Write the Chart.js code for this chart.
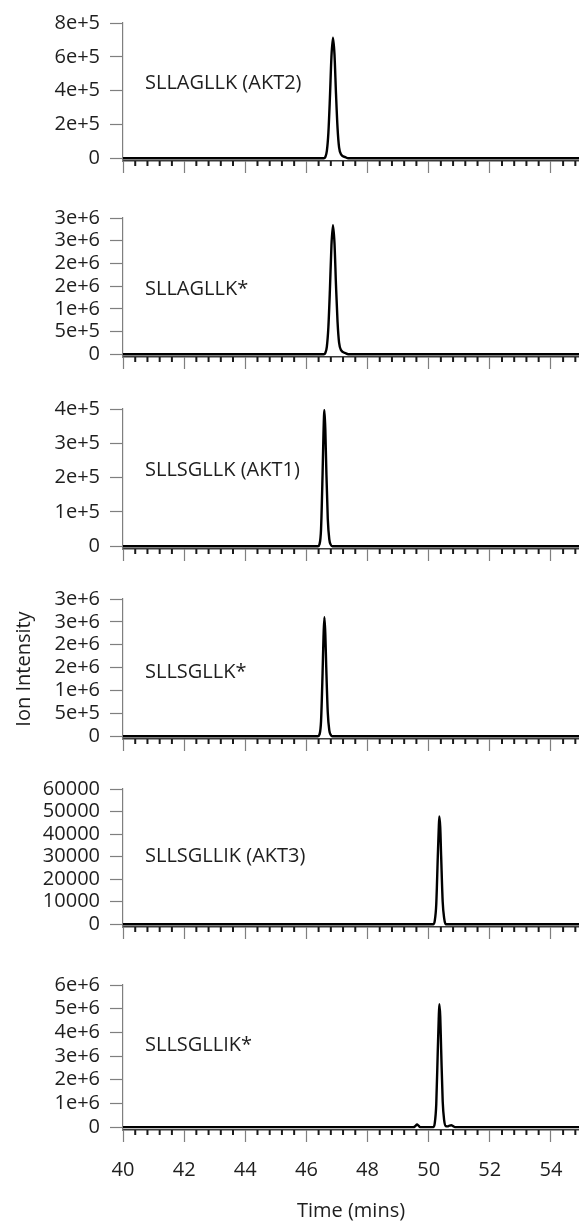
<!DOCTYPE html>
<html><head><meta charset="utf-8">
<script src="https://cdn.jsdelivr.net/npm/chart.js@4.4.0/dist/chart.umd.min.js"></script>
<style>
html,body{margin:0;padding:0;background:#fff;}
body{width:579px;height:1228px;position:relative;overflow:hidden;}
.panel{position:absolute;left:0;width:579px;}
</style></head><body>
<script>
// ---------------- data ----------------
const peptideLabels = ['SLLAGLLK (AKT2)', 'SLLAGLLK*', 'SLLSGLLK (AKT1)', 'SLLSGLLK*', 'SLLSGLLIK (AKT3)', 'SLLSGLLIK*'];

const time1 = [40, 46.57, 46.62, 46.67, 46.72, 46.77, 46.82, 46.87, 46.92, 46.97, 47.02, 47.07, 47.14, 47.27, 47.37, 55];
const int1  = [0, 0, 7000, 43000, 150000, 357000, 600000, 713000, 613000, 378000, 178000, 64000, 21000, 7000, 0, 0];

const time2 = [40, 46.57, 46.62, 46.67, 46.72, 46.77, 46.82, 46.87, 46.92, 46.97, 47.02, 47.07, 47.14, 47.27, 47.37, 55];
const int2  = [0, 0, 28000, 170000, 600000, 1420000, 2390000, 2840000, 2440000, 1500000, 710000, 255000, 85000, 28000, 0, 0];

const time3 = [40, 46.38, 46.43, 46.48, 46.53, 46.56, 46.59, 46.62, 46.65, 46.70, 46.75, 46.80, 46.85, 55];
const int3  = [0, 0, 6000, 50000, 210000, 330000, 397000, 340000, 230000, 80000, 20000, 4000, 0, 0];

const time4 = [40, 46.38, 46.43, 46.48, 46.53, 46.56, 46.59, 46.62, 46.65, 46.70, 46.75, 46.80, 46.85, 55];
const int4  = [0, 0, 39000, 330000, 1380000, 2160000, 2600000, 2230000, 1510000, 520000, 130000, 26000, 0, 0];

const time5 = [40, 50.15, 50.20, 50.25, 50.30, 50.33, 50.35, 50.38, 50.41, 50.46, 50.51, 50.56, 55];
const int5  = [0, 0, 1500, 9000, 30000, 42000, 47800, 43000, 30000, 10000, 2500, 0, 0];

const time6 = [40, 49.50, 49.57, 49.62, 49.67, 49.72, 50.15, 50.20, 50.25, 50.30, 50.33, 50.35, 50.38, 50.41, 50.46, 50.51, 50.56, 50.62, 50.68, 50.74, 50.80, 50.86, 55];
const int6  = [0, 0, 50000, 110000, 60000, 0, 0, 160000, 980000, 3250000, 4560000, 5190000, 4670000, 3260000, 1090000, 270000, 40000, 30000, 60000, 80000, 40000, 0, 0];

const yTicks1 = [0, 200000, 400000, 600000, 800000];
const yTickLabels1 = ['0', '2e+5', '4e+5', '6e+5', '8e+5'];
const yTicks2 = [0, 500000, 1000000, 1500000, 2000000, 2500000, 3000000];
const yTickLabels2 = ['0', '5e+5', '1e+6', '2e+6', '2e+6', '3e+6', '3e+6'];
const yTicks3 = [0, 100000, 200000, 300000, 400000];
const yTickLabels3 = ['0', '1e+5', '2e+5', '3e+5', '4e+5'];
const yTicks4 = [0, 500000, 1000000, 1500000, 2000000, 2500000, 3000000];
const yTickLabels4 = ['0', '5e+5', '1e+6', '2e+6', '2e+6', '3e+6', '3e+6'];
const yTicks5 = [0, 10000, 20000, 30000, 40000, 50000, 60000];
const yTickLabels5 = ['0', '10000', '20000', '30000', '40000', '50000', '60000'];
const yTicks6 = [0, 1000000, 2000000, 3000000, 4000000, 5000000, 6000000];
const yTickLabels6 = ['0', '1e+6', '2e+6', '3e+6', '4e+6', '5e+6', '6e+6'];

const xTickLabels = ['40', '42', '44', '46', '48', '50', '52', '54'];
const xMin = 40;
const xMax = 54.92;
const xMinorStep = 0.4;

const xTitle = 'Time (mins)';
const yTitle = 'Ion Intensity';

// ---------------- layout / style ----------------
const times = [time1, time2, time3, time4, time5, time6];
const ints = [int1, int2, int3, int4, int5, int6];
const yTicks = [yTicks1, yTicks2, yTicks3, yTicks4, yTicks5, yTicks6];
const yTickLabels = [yTickLabels1, yTickLabels2, yTickLabels3, yTickLabels4, yTickLabels5, yTickLabels6];

const panelLayout = [
  { top: 17,  zero: 164,  labelFrac: 0.44 },
  { top: 212, zero: 360,  labelFrac: 0.51 },
  { top: 403, zero: 552,  labelFrac: 0.44 },
  { top: 593, zero: 742,  labelFrac: 0.526 },
  { top: 783, zero: 930,  labelFrac: 0.487 },
  { top: 979, zero: 1127, labelFrac: 0.417 }
];
const PAD_TOP = 16;
const GAP = 3;
const PAGE_H = 1228;
const FONT = "'Open Sans', 'Liberation Sans', sans-serif";
const TEXT = '#1e1e1e';

Chart.defaults.font.family = FONT;
Chart.defaults.color = TEXT;

const panelDecor = {
  id: 'panelDecor',
  afterDraw(chart, args, opts) {
    const { ctx, chartArea } = chart;
    const x = chart.scales.x;
    ctx.save();
    ctx.strokeStyle = '#1a1a1a';
    ctx.lineWidth = 2;
    for (let k = 0; ; k++) {
      const v = xMin + k * xMinorStep;
      if (v > x.max + 1e-9) break;
      const r = v / 2;
      if (Math.abs(r - Math.round(r)) < 1e-6) continue;
      const px = x.getPixelForValue(v);
      ctx.beginPath();
      ctx.moveTo(px, x.top);
      ctx.lineTo(px, x.top + 5);
      ctx.stroke();
    }
    ctx.fillStyle = TEXT;
    ctx.font = '20px ' + FONT;
    ctx.textBaseline = 'middle';
    ctx.textAlign = 'left';
    ctx.fillText(opts.text, chartArea.left + 22, chartArea.top + opts.frac * (chartArea.bottom - chartArea.top));
    ctx.restore();
  }
};

function makePanel(i) {
  const L = panelLayout[i];
  const isBottom = i === 5;
  const axisH = isBottom ? PAGE_H - (L.zero + GAP) : 16;
  const top = L.top - PAD_TOP;
  const h = PAD_TOP + (L.zero + GAP - L.top) + axisH;
  const div = document.createElement('div');
  div.className = 'panel';
  div.style.top = top + 'px';
  div.style.height = h + 'px';
  const canvas = document.createElement('canvas');
  canvas.width = 579; canvas.height = h;
  canvas.style.width = '579px'; canvas.style.height = h + 'px';
  div.appendChild(canvas);
  document.body.appendChild(div);

  const ticks = yTicks[i];
  const yMaxV = ticks[ticks.length - 1];
  const yMinV = -yMaxV * GAP / (L.zero - L.top);
  const pts = times[i].map((t, k) => ({ x: t, y: ints[i][k] }));

  new Chart(canvas, {
    type: 'line',
    data: { datasets: [{ data: pts, borderColor: '#000', borderWidth: 2.4, pointRadius: 0, cubicInterpolationMode: 'monotone', fill: false }] },
    options: {
      responsive: false,
      animation: false,
      events: [],
      layout: { padding: { top: PAD_TOP, left: 0, right: 0, bottom: 0 } },
      plugins: {
        legend: { display: false },
        tooltip: { enabled: false },
        panelDecor: { text: peptideLabels[i], frac: L.labelFrac }
      },
      scales: {
        x: {
          type: 'linear', min: xMin, max: xMax, position: 'bottom',
          afterBuildTicks: s => { s.ticks = xTickLabels.map(v => ({ value: Number(v) })); },
          afterFit: s => { s.height = axisH; },
          ticks: { display: isBottom, autoSkip: false, maxRotation: 0, padding: 16, color: TEXT,
                   font: { size: 20, family: FONT }, callback: (v, idx) => xTickLabels[idx] },
          grid: { display: true, drawOnChartArea: false, drawTicks: true, tickLength: 12, tickColor: '#7f7f7f', tickWidth: 1.2 },
          border: { display: true, color: '#3a3a3a', width: 1.5 },
          title: isBottom ? { display: true, text: xTitle, color: TEXT, font: { size: 20, family: FONT }, padding: { top: 0, bottom: 5 } } : { display: false }
        },
        y: {
          type: 'linear', min: yMinV, max: yMaxV, position: 'left',
          afterBuildTicks: s => { s.ticks = ticks.map(v => ({ value: v })); },
          afterFit: s => { s.width = 123; },
          ticks: { autoSkip: false, padding: 10, color: TEXT, font: { size: 20, family: FONT }, callback: (v, idx) => yTickLabels[i][idx] },
          grid: { display: true, drawOnChartArea: false, drawTicks: true, tickLength: 13, tickColor: '#7f7f7f', tickWidth: 1.2 },
          border: { display: true, color: '#7f7f7f', width: 1.2 },
          title: i === 3 ? { display: true, text: yTitle, color: TEXT, font: { size: 20, family: FONT }, padding: { top: 12, bottom: 0 } } : { display: false }
        }
      }
    },
    plugins: [panelDecor]
  });
}

for (let i = 0; i < 6; i++) makePanel(i);
</script>
</body></html>
